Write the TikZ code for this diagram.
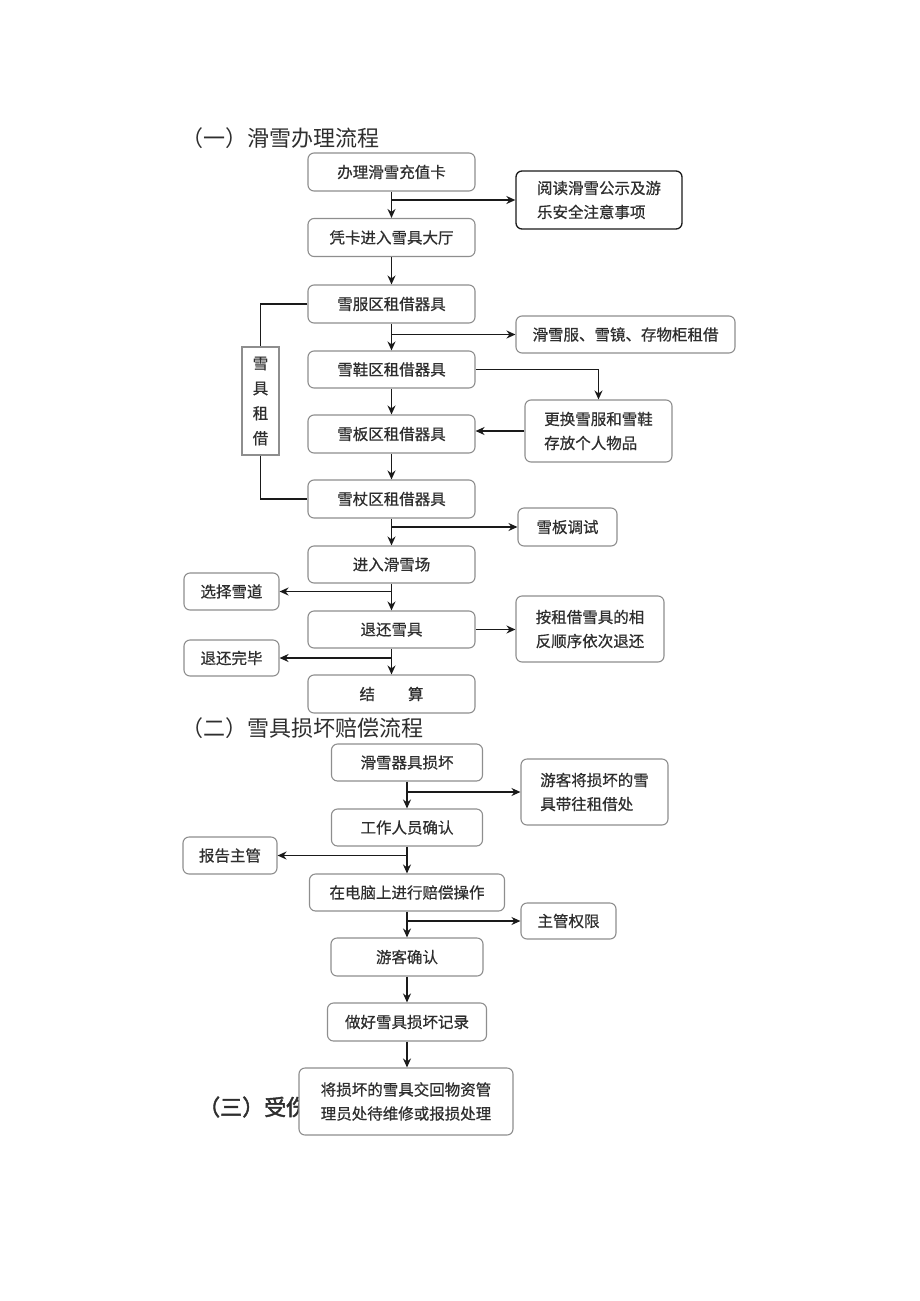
\documentclass[tikz,border=0pt]{standalone}
\usepackage{fontspec}
\setmainfont{Noto Sans CJK SC}
\newfontfamily\cjkbold[FakeBold=2]{Noto Sans CJK SC}
\newfontfamily\cjkbox[FakeBold=0.6]{Noto Sans CJK SC}
\usetikzlibrary{arrows.meta,calc}
\definecolor{boxgray}{HTML}{8E8E8E}
\definecolor{txt}{HTML}{2E2E2E}
\definecolor{linecol}{HTML}{1A1A1A}
\begin{document}
\begin{tikzpicture}[x=1pt,y=-1pt,
  box/.style={draw=boxgray, line width=1.1pt, rounded corners=6pt, fill=white, text=txt,
    font=\cjkbox\fontsize{15.5}{24}\selectfont, inner sep=0pt, align=left},
  darkbox/.style={box, draw=linecol, line width=1.3pt},
  sidebox/.style={draw=boxgray, line width=1.1pt, fill=white, text=txt,
    font=\cjkbox\fontsize{15.5}{25}\selectfont, inner sep=0pt, align=center},
  ttl/.style={anchor=west, text=txt, font=\fontsize{22}{26}\selectfont, inner sep=0pt},
  arr/.style={draw=linecol, line width=1.8pt, -{Stealth[length=9pt,width=8pt]}},
  ln/.style={draw=linecol, line width=1.8pt}]
\useasboundingbox (0,0) rectangle (920,1301);

% ---------- Section 1 ----------
\node[ttl] (t1) at (181,138) {（一）滑雪办理流程};
\node[box, minimum width=167pt, minimum height=38pt] (A) at (391.5,172) {办理滑雪充值卡};
\node[darkbox, minimum width=166pt, minimum height=58pt] (B) at (599,200) {阅读滑雪公示及游\\乐安全注意事项};
\node[box, minimum width=167pt, minimum height=38pt] (C) at (391.5,237.5) {凭卡进入雪具大厅};
\node[box, minimum width=167pt, minimum height=38pt] (D) at (391.5,304) {雪服区租借器具};
\node[box, minimum width=219pt, minimum height=37pt] (E) at (625.5,334.5) {滑雪服、雪镜、存物柜租借};
\node[box, minimum width=167pt, minimum height=37pt] (F) at (391.5,369.5) {雪鞋区租借器具};
\node[box, minimum width=147pt, minimum height=62pt] (G) at (598.5,431) {更换雪服和雪鞋\\存放个人物品};
\node[box, minimum width=167pt, minimum height=38pt] (H) at (391.5,434) {雪板区租借器具};
\node[box, minimum width=167pt, minimum height=38pt] (I) at (391.5,499) {雪杖区租借器具};
\node[sidebox, minimum width=37pt, minimum height=108pt] (S0) at (260.5,401) {雪\\具\\租\\借};
\node[box, minimum width=99pt, minimum height=38pt] (J) at (567.5,527) {雪板调试};
\node[box, minimum width=167pt, minimum height=37pt] (K) at (391.5,564.5) {进入滑雪场};
\node[box, minimum width=95pt, minimum height=37pt] (L) at (231.5,591.5) {选择雪道};
\node[box, minimum width=167pt, minimum height=37pt] (M) at (391.5,629.5) {退还雪具};
\node[box, minimum width=148pt, minimum height=66pt] (N) at (590,629) {按租借雪具的相\\反顺序依次退还};
\node[box, minimum width=95pt, minimum height=36pt] (O) at (231.5,658) {退还完毕};
\node[box, minimum width=167pt, minimum height=38pt] (P) at (391.5,694) {结\hspace{33pt}算};

\draw[arr] (A.south) -- (C.north);
\coordinate (ab) at (A.south |- B.west);
\draw[arr] (ab) -- (B.west);
\draw[arr] (C.south) -- (D.north);
\draw[arr] (D.south) -- (F.north);
\coordinate (de) at (D.south |- E.west);
\draw[arr] (de) -- (E.west);
\draw[arr] (F.east) -| (G.north);
\draw[arr] (F.south) -- (H.north);
\draw[arr] (G.west) -- (G.west -| H.east);
\draw[arr] (H.south) -- (I.north);
\draw[ln] (D.west) -| (S0.north);
\draw[ln] (S0.south) |- (I.west);
\draw[arr] (I.south) -- (K.north);
\coordinate (ij) at (I.south |- J.west);
\draw[arr] (ij) -- (J.west);
\draw[arr] (K.south) -- (M.north);
\coordinate (kl) at (K.south |- L.east);
\draw[arr] (kl) -- (L.east);
\draw[arr] (M.east) -- (M.east -| N.west);
\draw[arr] (M.south) -- (P.north);
\coordinate (mo) at (M.south |- O.east);
\draw[arr] (mo) -- (O.east);

% ---------- Section 2 ----------
\node[ttl] (t2) at (181,728) {（二）雪具损坏赔偿流程};
\node[anchor=west, text=txt, font=\cjkbold\fontsize{22}{26}\selectfont, inner sep=0pt] (t3) at (198,1107) {（三）受伤};
\node[box, minimum width=151pt, minimum height=37pt] (Q) at (407,762.5) {滑雪器具损坏};
\node[box, minimum width=147pt, minimum height=66pt] (R) at (594.5,792) {游客将损坏的雪\\具带往租借处};
\node[box, minimum width=151pt, minimum height=37pt] (S) at (407,827.5) {工作人员确认};
\node[box, minimum width=94pt, minimum height=37pt] (T) at (230,855.5) {报告主管};
\node[box, minimum width=195pt, minimum height=37pt] (U) at (407,892.5) {在电脑上进行赔偿操作};
\node[box, minimum width=95pt, minimum height=36pt] (V) at (568.5,921) {主管权限};
\node[box, minimum width=152pt, minimum height=38pt] (W) at (407,957) {游客确认};
\node[box, minimum width=159pt, minimum height=38pt] (X) at (407,1022) {做好雪具损坏记录};
\node[box, minimum width=214pt, minimum height=67pt] (Y) at (406,1101.5) {将损坏的雪具交回物资管\\理员处待维修或报损处理};

\draw[arr] (Q.south) -- (S.north);
\coordinate (qr) at (Q.south |- R.west);
\draw[arr] (qr) -- (R.west);
\draw[arr] (S.south) -- (U.north);
\coordinate (st) at (S.south |- T.east);
\draw[arr] (st) -- (T.east);
\draw[arr] (U.south) -- (W.north);
\coordinate (uv) at (U.south |- V.west);
\draw[arr] (uv) -- (V.west);
\draw[arr] (W.south) -- (X.north);
\draw[arr] (X.south) -- (X.south |- Y.north);
\end{tikzpicture}
\end{document}
